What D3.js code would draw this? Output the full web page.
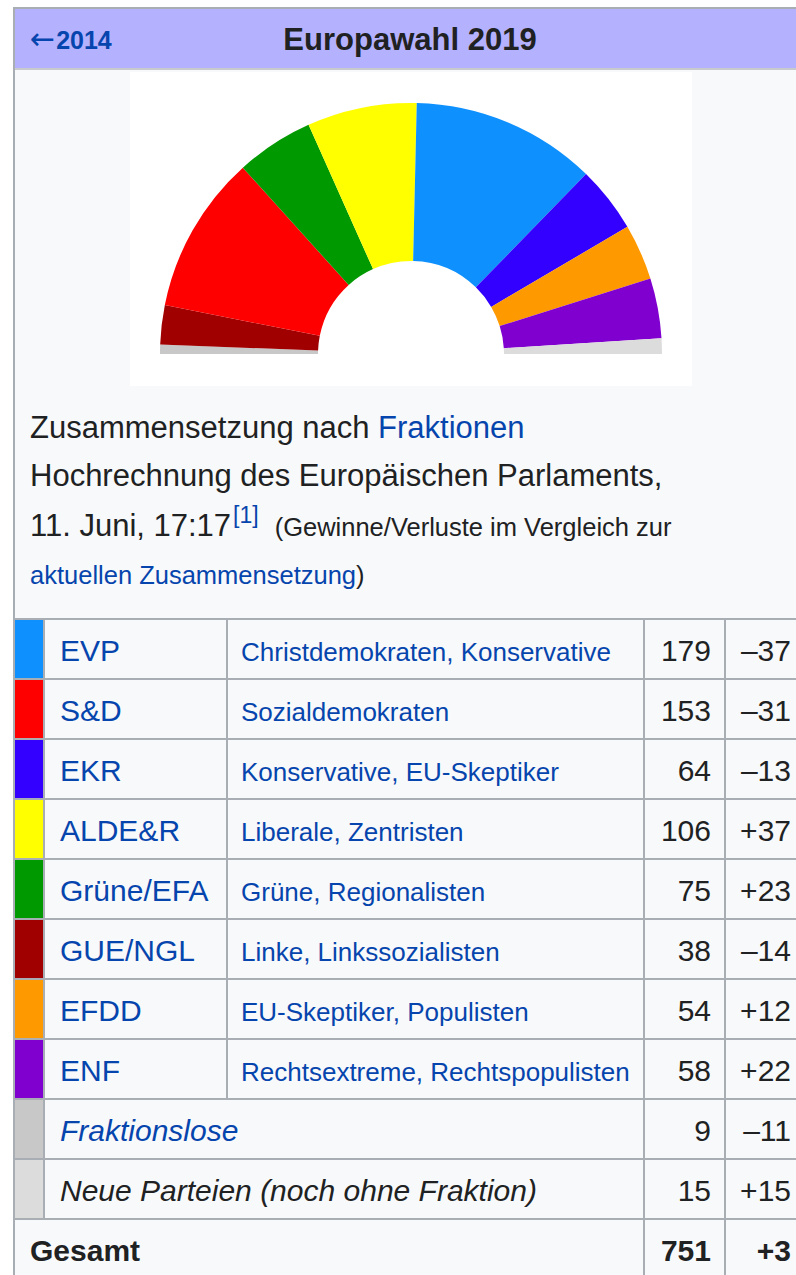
<!DOCTYPE html>
<html>
<head>
<meta charset="utf-8">
<script src="https://cdn.jsdelivr.net/npm/d3@7"></script>
<style>
body { margin: 0; background: #fff; }
svg { display: block; font-family: "Liberation Sans", Arial, Helvetica, sans-serif; }
</style>
</head>
<body>
<svg></svg>
<script>
// table order
const groups = ["EVP", "S&D", "EKR", "ALDE&R", "Grüne/EFA", "GUE/NGL", "EFDD", "ENF", "Fraktionslose", "Neue Parteien (noch ohne Fraktion)"];
const descriptions = ["Christdemokraten, Konservative", "Sozialdemokraten", "Konservative, EU-Skeptiker", "Liberale, Zentristen", "Grüne, Regionalisten", "Linke, Linkssozialisten", "EU-Skeptiker, Populisten", "Rechtsextreme, Rechtspopulisten", "", ""];
const seats = [179, 153, 64, 106, 75, 38, 54, 58, 9, 15];
const changes = ["–37", "–31", "–13", "+37", "+23", "–14", "+12", "+22", "–11", "+15"];
const colors = ["#0f90ff", "#ff0000", "#3300ff", "#ffff00", "#009900", "#a00000", "#ff9900", "#8000d0", "#c8c8c8", "#dcdcdc"];
// seating order in the hemicycle, left to right
const seatOrder = ["Fraktionslose", "GUE/NGL", "S&D", "Grüne/EFA", "ALDE&R", "EVP", "EKR", "EFDD", "ENF", "Neue Parteien (noch ohne Fraktion)"];
const totalSeats = 751, totalChange = "+3";

const W = 796, H = 1275;
const link = "#0645ad", ink = "#202122", border = "#a9aeb4";

const svg = d3.select("svg").attr("width", W).attr("height", H);

// infobox frame
svg.append("rect").attr("x", 14).attr("y", 8).attr("width", W).attr("height", H)
  .attr("fill", "#f8f9fa").attr("stroke", border).attr("stroke-width", 2);

// header
svg.append("rect").attr("x", 15).attr("y", 9).attr("width", W).attr("height", 60)
  .attr("fill", "#b4b1ff");
svg.append("line").attr("x1", 15).attr("x2", W).attr("y1", 69).attr("y2", 69)
  .attr("stroke", "#c8cacc").attr("stroke-width", 2);
const back = svg.append("text").attr("x", 30).attr("y", 49)
  .attr("font-size", 25).attr("font-weight", "bold").attr("fill", link);
back.append("tspan").attr("font-size", 30).attr("font-weight", "normal")
  .attr("font-family", "DejaVu Sans").attr("textLength", 21).text("←");
back.append("tspan").attr("dx", 1).text("2014");
svg.append("text").attr("x", 410).attr("y", 50).attr("text-anchor", "middle")
  .attr("font-size", 31).attr("font-weight", "bold").attr("fill", ink)
  .text("Europawahl 2019");

// hemicycle
svg.append("rect").attr("x", 130).attr("y", 72).attr("width", 562).attr("height", 314)
  .attr("fill", "#fff");

const seatOf = d => seats[groups.indexOf(d)];
const colorOf = d => colors[groups.indexOf(d)];

const pie = d3.pie().value(seatOf).sort(null)
  .startAngle(-Math.PI / 2).endAngle(Math.PI / 2);
const arc = d3.arc().innerRadius(93).outerRadius(251);

svg.append("g").attr("transform", "translate(411,354)")
  .selectAll("path")
  .data(pie(seatOrder))
  .join("path")
  .attr("d", arc)
  .attr("fill", d => colorOf(d.data));

// caption
const cap = svg.append("g").attr("fill", ink);
const l1 = cap.append("text").attr("x", 30).attr("y", 438).attr("font-size", 31);
l1.append("tspan").text("Zusammensetzung nach ");
l1.append("tspan").attr("fill", link).text("Fraktionen");
cap.append("text").attr("x", 30).attr("y", 486).attr("font-size", 31)
  .text("Hochrechnung des Europäischen Parlaments,");
const l3 = cap.append("text").attr("x", 30).attr("y", 536).attr("font-size", 31);
l3.append("tspan").text("11. Juni, 17:17");
l3.append("tspan").attr("fill", link).attr("font-size", 23).attr("dx", 2).attr("dy", -13).text("[1]");
l3.append("tspan").attr("font-size", 25.5).attr("dx", 16).attr("dy", 13).text("(Gewinne/Verluste im Vergleich zur");
const l4 = cap.append("text").attr("x", 30).attr("y", 584).attr("font-size", 25.5);
l4.append("tspan").attr("fill", link).text("aktuellen Zusammensetzung");
l4.append("tspan").text(")");

// table
const rows = [...groups, "Gesamt"];
const y = d3.scaleBand().domain(rows).range([619, 619 + rows.length * 60]);
const xSwatch = 15, xName = 44, xDesc = 227, xSeats = 644, xChange = 725;

const tbl = svg.append("g");

// swatches
tbl.selectAll(".sw").data(groups).join("rect")
  .attr("class", "sw")
  .attr("x", xSwatch).attr("y", d => y(d))
  .attr("width", xName - xSwatch).attr("height", y.bandwidth())
  .attr("fill", (d, i) => colors[i]);

// grid lines
tbl.selectAll(".hl").data(rows.concat("__end")).join("line")
  .attr("class", "hl")
  .attr("x1", 15).attr("x2", W)
  .attr("y1", (d, i) => 619 + i * 60).attr("y2", (d, i) => 619 + i * 60)
  .attr("stroke", border).attr("stroke-width", 2);

const vline = (x, from, to) => tbl.append("line")
  .attr("x1", x).attr("x2", x)
  .attr("y1", y(from)).attr("y2", y(to) + y.bandwidth())
  .attr("stroke", border).attr("stroke-width", 2);
vline(xName, groups[0], groups[groups.length - 1]);
vline(xDesc, groups[0], groups[7]);
vline(xSeats, rows[0], "Gesamt");
vline(xChange, rows[0], "Gesamt");

const base = d => y(d) + 42;

tbl.selectAll(".nm").data(groups).join("text")
  .attr("class", "nm")
  .attr("x", xName + 16).attr("y", base)
  .attr("font-size", 30)
  .attr("font-style", (d, i) => i >= 8 ? "italic" : null)
  .attr("fill", (d, i) => i === 9 ? ink : link)
  .text(d => d);

tbl.selectAll(".ds").data(groups.slice(0, 8)).join("text")
  .attr("class", "ds")
  .attr("x", xDesc + 14).attr("y", base)
  .attr("font-size", 26).attr("fill", link)
  .text((d, i) => descriptions[i]);

tbl.selectAll(".st").data(groups).join("text")
  .attr("class", "st")
  .attr("x", xSeats + 67).attr("y", base).attr("text-anchor", "end")
  .attr("font-size", 30).attr("fill", ink)
  .text((d, i) => seats[i]);

tbl.selectAll(".ch").data(groups).join("text")
  .attr("class", "ch")
  .attr("x", 791).attr("y", base).attr("text-anchor", "end")
  .attr("font-size", 30).attr("fill", ink)
  .text((d, i) => changes[i]);

// total row
const g = tbl.append("g").attr("font-size", 30).attr("font-weight", "bold").attr("fill", ink);
g.append("text").attr("x", 30).attr("y", base("Gesamt")).text("Gesamt");
g.append("text").attr("x", xSeats + 67).attr("y", base("Gesamt")).attr("text-anchor", "end").text(totalSeats);
g.append("text").attr("x", 791).attr("y", base("Gesamt")).attr("text-anchor", "end").text(totalChange);
</script>
</body>
</html>
